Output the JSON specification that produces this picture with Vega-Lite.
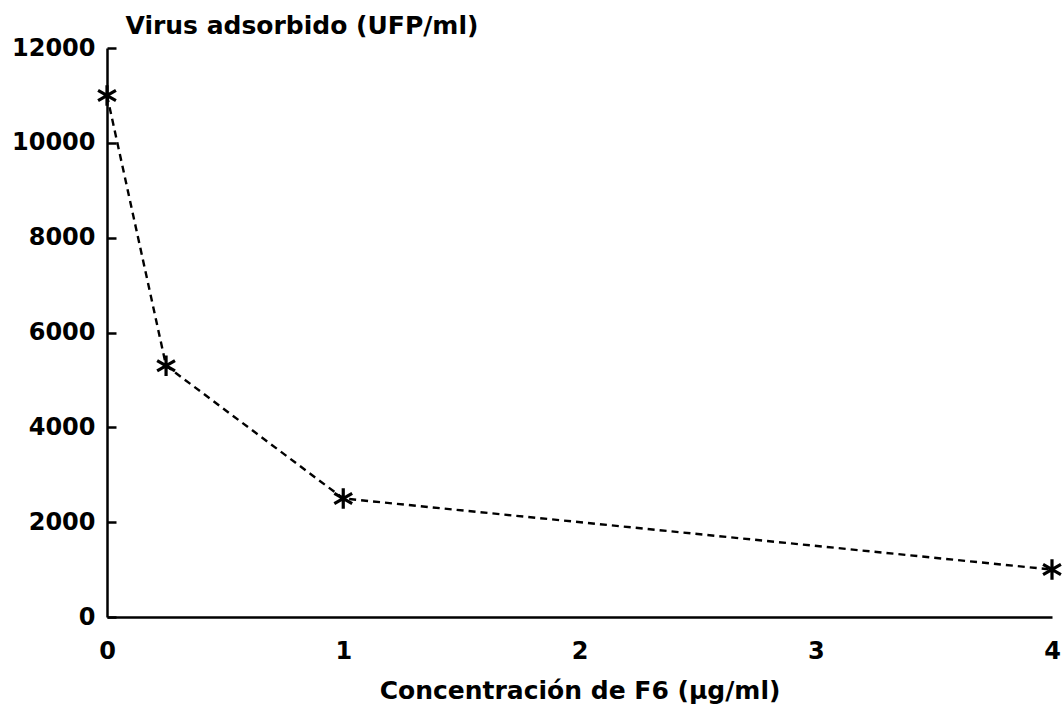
{
  "$schema": "https://vega.github.io/schema/vega-lite/v6.json",
  "autosize": {"type": "none"},
  "width": 945,
  "height": 569,
  "padding": {"left": 107, "top": 48, "right": 12, "bottom": 92},
  "background": "white",
  "config": {
    "view": {"stroke": null},
    "font": "DejaVu Sans",
    "axis": {
      "grid": false,
      "domainColor": "black",
      "domainWidth": 2.5,
      "tickColor": "black",
      "tickWidth": 2.5,
      "labelColor": "black",
      "titleColor": "black",
      "labelFont": "DejaVu Sans",
      "titleFont": "DejaVu Sans",
      "labelFontSize": 24,
      "labelFontWeight": "bold",
      "titleFontSize": 25,
      "titleFontWeight": "bold"
    }
  },
  "data": {
    "values": [
      {"conc": 0, "virus": 11000},
      {"conc": 0.25, "virus": 5300},
      {"conc": 1, "virus": 2500},
      {"conc": 4, "virus": 1000}
    ]
  },
  "encoding": {
    "x": {
      "field": "conc",
      "type": "quantitative",
      "scale": {"domain": [0, 4], "nice": false},
      "axis": {
        "title": "Concentración de F6 (µg/ml)",
        "values": [0, 1, 2, 3, 4],
        "format": "d",
        "ticks": false,
        "labelPadding": 22,
        "labelFlush": false,
        "titleY": 73,
        "titleBaseline": "middle"
      }
    },
    "y": {
      "field": "virus",
      "type": "quantitative",
      "scale": {"domain": [0, 12000], "nice": false},
      "axis": {
        "title": "Virus adsorbido (UFP/ml)",
        "values": [0, 2000, 4000, 6000, 8000, 10000, 12000],
        "format": "d",
        "tickSize": -9,
        "labelPadding": 21,
        "labelFlush": false,
        "titleAngle": 0,
        "titleAlign": "left",
        "titleBaseline": "middle",
        "titleX": 18,
        "titleY": -23
      }
    }
  },
  "layer": [
    {
      "mark": {"type": "line", "color": "black", "strokeWidth": 2.4, "strokeDash": [7, 5], "clip": false}
    },
    {
      "mark": {
        "type": "point",
        "shape": "M0,-1L0,1M-0.87,-0.5L0.87,0.5M-0.87,0.5L0.87,-0.5",
        "filled": false,
        "color": "black",
        "strokeWidth": 3.2,
        "size": 420,
        "opacity": 1,
        "clip": false
      }
    }
  ]
}
